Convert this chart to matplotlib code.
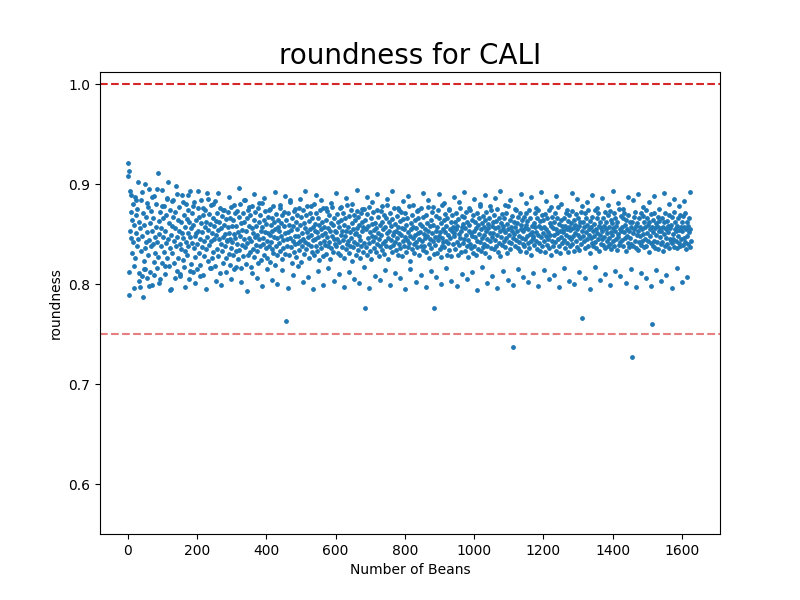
import matplotlib
matplotlib.use("Agg")
import matplotlib.pyplot as plt
import numpy as np

# roundness values (x1000), in bean order
ROUNDNESS_RAW = """
908 921 913 789 893 853 846 872 831 864 880 842 859 818 887 826 851 869 838 875
902 845 811 862 797 856 833 884 808 848 871 787 823 859 900 836 815 867 842 852
806 877 829 895 844 861 812 838 873 853 799 866 840 822 888 847 831 857 880 816
842 911 827 863 850 805 872 838 856 894 821 847 866 832 878 810 853 841 869 826
885 845 902 818 861 836 874 849 795 858 831 867 884 843 821 856 872 838 898 813
847 864 826 853 877 840 808 862 835 851 889 824 846 869 817 857 833 880 842 865
829 851 874 838 862 805 847 893 820 856 841 871 812 859 836 882 848 827 864 851
815 840 876 853 831 867 845 819 861 884 837 852 809 869 843 828 874 857 835 862
847 891 823 854 870 839 816 860 843 879 826 851 866 832 858 845 883 818 849 863
835 871 854 828 845 862 811 876 840 856 833 868 847 821 859 874 838 850 826 865
844 843 857 872 830 851 866 819 845 877 836 858 842 829 864 850 815 871 846 833
858 840 873 825 852 867 834 880 848 816 861 839 854 871 828 845 862 837 884 820
853 866 841 829 874 846 858 832 869 843 817 856 878 835 851 864 827 847 872 839
858 833 849 876 821 862 845 838 869 853 824 857 881 840 846 864 829 852 873 836
860 843 826 867 851 838 874 849 822 859 842 866 835 853 878 831 847 862 819 855
838 870 846 829 857 864 841 853 876 833 848 861 825 869 844 836 858 872 830 851
763 864 845 838 871 852 829 859 846 884 837 854 821 866 843 858 832 873 848 840
862 827 855 869 841 848 876 834 859 843 822 867 851 838 874 845 830 861 856 842
869 835 852 878 840 847 863 826 855 871 838 849 832 866 857 844 880 829 853 860
845 838 871 852 833 866 847 824 859 874 841 855 836 862 849 828 876 843 857 839
851 864 830 847 873 838 856 842 869 825 853 861 836 848 877 832 859 845 866 840
853 852 838 870 845 831 862 857 842 876 829 849 864 837 853 871 844 826 859 848
866 835 853 879 840 857 843 831 868 852 838 874 846 823 861 855 837 869 842 850
864 829 851 873 840 856 834 867 848 859 826 844 871 838 853 862 832 857 875 841
776 864 837 855 829 870 846 858 841 877 833 852 866 825 848 860 843 872 836 854
847 861 832 856 874 840 851 867 828 845 859 838 873 849 834 862 855 841 869 830
857 843 866 838 851 879 825 846 862 853 837 871 844 858 832 865 849 839 876 852
842 860 834 853 868 846 829 857 874 840 851 863 836 849 872 828 856 843 865 838
855 847 871 832 859 844 866 837 852 878 841 848 823 861 855 835 869 846 857 840
831 864 849 856 842 873 837 851 866 829 845 860 852 838 876 843 858 834 867 850
838 855 846 869 832 861 848 853 877 840 826 858 845 864 836 851 872 843 859 830
776 847 839 868 853 831 857 874 844 848 866 835 852 861 827 846 879 838 855 842
864 837 852 870 843 858 829 866 849 841 874 834 855 846 862 828 853 869 840 857
851 848 862 835 855 871 842 858 829 865 850 839 876 846 853 832 868 857 841 860
845 867 833 856 849 872 838 862 844 827 859 853 840 874 836 851 864 848 831 869
853 838 862 847 856 829 871 843 859 835 866 850 842 878 833 855 861 846 837 868
840 857 849 864 831 853 872 845 838 860 856 827 866 843 851 874 836 858 847 862
851 835 869 844 856 838 863 849 875 832 857 841 866 853 828 861 847 870 839 855
858 843 866 852 837 871 846 860 831 855 878 842 849 864 835 857 841 868 853 846
737 862 850 857 838 874 844 853 861 836 867 848 842 871 833 855 859 846 864 840
853 867 838 856 845 871 832 859 848 863 841 855 874 836 850 866 843 829 858 852
848 846 861 839 857 871 843 852 866 835 849 874 858 841 863 833 856 847 869 838
851 864 843 857 832 870 848 855 839 866 852 845 874 836 861 849 829 858 843 867
856 838 862 849 871 842 855 833 866 851 845 877 838 860 853 831 864 847 858 841
854 852 866 844 858 836 871 849 855 841 863 832 857 847 869 838 854 861 845 873
840 856 848 864 833 859 851 870 843 855 837 866 849 858 834 862 846 872 840 853
766 848 862 843 857 871 836 852 866 845 859 838 874 849 855 831 863 846 857 841
867 853 838 860 848 874 842 855 836 866 851 845 871 833 858 849 862 840 856 845
853 866 839 858 847 872 836 855 862 843 851 869 838 857 846 873 840 852 864 835
849 861 843 856 871 838 853 866 845 858 834 862 850 847 875 839 855 842 868 853
857 844 866 838 852 871 846 859 833 864 848 855 841 869 837 853 862 846 857 840
727 862 851 838 867 855 843 872 836 858 849 861 834 853 866 842 857 848 871 839
855 843 868 850 837 862 857 845 874 838 851 866 843 859 832 862 848 855 870 841
760 857 838 864 852 871 843 856 836 861 849 858 842 867 835 853 863 847 856 840
853 866 842 857 833 862 850 871 838 855 846 863 840 858 852 836 869 845 856 843
859 841 867 850 845 872 837 855 862 843 853 858 836 866 848 854 841 869 838 857
845 862 853 839 868 846 857 842 871 835 855 862 848 840 858 852 866 837 855 843
"""

# the wider scatter band (beans further from the mean), also in bean order
ROUNDNESS_WIDE_RAW = """
812 889 796 884 803 892 815 881 798 887 809 895 801 878 818 886 794 883 806 890
810 882 797 889 813 878 801 893 808 876 795 885 816 880 803 891 799 874 812 887
805 879 817 896 802 884 793 877 811 890 806 881 798 886 815 875 804 892 800 879
814 888 796 882 809 875 818 885 802 893 807 878 795 889 813 884 799 876 816 881
803 891 810 877 797 886 812 880 805 894 801 875 817 887 796 882 808 890 804 878
814 885 799 893 811 876 806 883 795 888 815 879 802 874 809 891 797 884 813 877
807 890 800 881 816 875 803 887 798 882 810 892 805 876 812 885 794 880 817 889
801 878 808 886 796 893 813 879 804 884 799 875 815 890 807 881 802 887 811 876
798 892 814 883 805 877 809 888 797 880 816 874 803 891 800 885 812 878 806 882
795 889 817 876 804 886 810 879 799 893 813 881 808 875 801 887 815 884 797 890
811 877 806 882 798 888 814 875 803 891 809 880 796 885 816 878 802 883 807 892
"""

roundness = np.array([int(v) for v in ROUNDNESS_RAW.split()]) / 1000.0
roundness_wide = np.array([int(v) for v in ROUNDNESS_WIDE_RAW.split()]) / 1000.0

n_beans = 1625
bean_idx = np.linspace(0, n_beans, len(roundness))
bean_idx_wide = np.linspace(3, n_beans - 3, len(roundness_wide))

UPPER_REF = 1.0
LOWER_REF = 0.75
DOT = "#1f77b4"

fig, ax = plt.subplots(figsize=(8, 6), dpi=100)
ax.scatter(bean_idx, roundness, s=6, color=DOT)
ax.scatter(bean_idx_wide, roundness_wide, s=6, color=DOT)
ax.axhline(UPPER_REF, color="#d62728", linestyle="--", linewidth=1.5)
ax.axhline(LOWER_REF, color="#d62728", linestyle="--", linewidth=1.5, alpha=0.6)

ax.set_title("roundness for CALI", fontsize=20)
ax.set_xlabel("Number of Beans")
ax.set_ylabel("roundness")
ax.set_xlim(-80, 1710)
ax.set_ylim(0.55, 1.012)
ax.set_xticks([0, 200, 400, 600, 800, 1000, 1200, 1400, 1600])
ax.set_yticks([0.6, 0.7, 0.8, 0.9, 1.0])

fig.savefig("out.png", dpi=100)
